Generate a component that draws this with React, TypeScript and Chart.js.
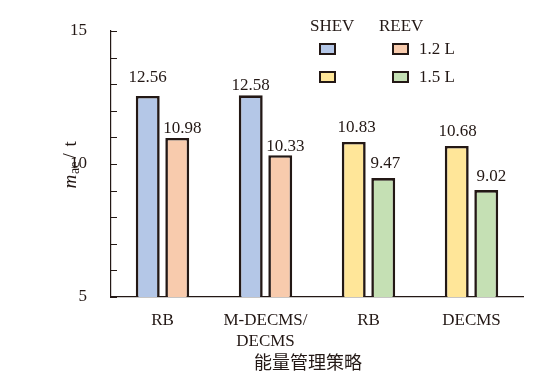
import React, { useEffect, useRef } from "react";
import { Chart, registerables } from "chart.js";

Chart.register(...registerables);

const categories: (string | string[])[] = ["RB", ["M-DECMS/", "DECMS"], "RB", "DECMS"];
const firstBarValues = [12.56, 12.58, 10.83, 10.68];
const secondBarValues = [10.98, 10.33, 9.47, 9.02];
const firstBarColors = ["#B4C7E7", "#B4C7E7", "#FFE699", "#FFE699"];
const secondBarColors = ["#F8CBAD", "#F8CBAD", "#C5E0B4", "#C5E0B4"];
const yTickValues = [5, 10, 15];
const xAxisTitle = "能量管理策略";

// label placement tweaks (style)
const firstLabelGap = [14, 5, 10, 10];
const firstLabelDx = [0, 0, 3, 1];
const secondLabelGap = [5, 4, 10, 9];
const secondLabelDx = [5, 5, 2, 5];

const SERIF = '"Liberation Serif", "DejaVu Serif", serif';
const INK = "#231815";

const overlayPlugin = {
  id: "overlay",
  afterDatasetsDraw(chart: any) {
    const ctx = chart.ctx;
    const y = chart.scales.y;
    const area = chart.chartArea;
    ctx.save();
    // inward ticks
    ctx.strokeStyle = INK;
    ctx.lineWidth = 1;
    for (let v = 5; v <= 15; v++) {
      const py = Math.round(y.getPixelForValue(v)) + 0.5;
      ctx.beginPath();
      ctx.moveTo(area.left, py);
      ctx.lineTo(area.left + 6, py);
      ctx.stroke();
    }
    // value labels
    ctx.fillStyle = INK;
    ctx.font = `17px ${SERIF}`;
    ctx.textAlign = "center";
    ctx.textBaseline = "alphabetic";
    const gaps = [firstLabelGap, secondLabelGap];
    const dxs = [firstLabelDx, secondLabelDx];
    chart.data.datasets.forEach((ds: any, di: number) => {
      const meta = chart.getDatasetMeta(di);
      meta.data.forEach((el: any, i: number) => {
        ctx.fillText(ds.data[i].toFixed(2), el.x + dxs[di][i], el.y - gaps[di][i]);
      });
    });
    // y title: m_ae / t (rotated, reading upwards)
    ctx.translate(75.5, 188.5);
    ctx.rotate(-Math.PI / 2);
    ctx.textAlign = "left";
    ctx.font = `italic 19px ${SERIF}`;
    ctx.fillText("m", 0, 0);
    ctx.font = `14px ${SERIF}`;
    ctx.fillText("ae", 14.5, 3);
    ctx.font = `19px ${SERIF}`;
    ctx.fillText("/", 30, 0);
    ctx.fillText("t", 42, 0);
    ctx.restore();
  },
};

const legendRows = [
  { left: firstBarColors[0], right: secondBarColors[0], text: "1.2 L" },
  { left: firstBarColors[2], right: secondBarColors[2], text: "1.5 L" },
];

export default function App() {
  const canvasRef = useRef<HTMLCanvasElement | null>(null);

  useEffect(() => {
    if (!canvasRef.current) return;
    const chart = new Chart(canvasRef.current, {
      type: "bar",
      data: {
        labels: categories as any,
        datasets: [
          {
            data: firstBarValues,
            backgroundColor: firstBarColors,
            borderColor: INK,
            borderWidth: 2.6,
            borderSkipped: false,
            categoryPercentage: 0.573,
            barPercentage: 0.81,
          },
          {
            data: secondBarValues,
            backgroundColor: secondBarColors,
            borderColor: INK,
            borderWidth: 2.6,
            borderSkipped: false,
            categoryPercentage: 0.573,
            barPercentage: 0.81,
          },
        ],
      },
      options: {
        animation: false,
        responsive: true,
        maintainAspectRatio: false,
        layout: { padding: { top: 31, right: 19, left: 0, bottom: 0 } },
        plugins: {
          legend: { display: false },
          tooltip: { enabled: false },
        },
        scales: {
          x: {
            grid: { display: false },
            border: { display: true, color: INK, width: 1.2 },
            ticks: {
              color: INK,
              font: { family: SERIF, size: 17, lineHeight: 1.25 },
              padding: 5,
              maxRotation: 0,
              autoSkip: false,
            },
            afterFit: (axis: any) => {
              axis.height = 79;
            },
          },
          y: {
            min: 5,
            max: 15,
            afterBuildTicks: (axis: any) => {
              axis.ticks = yTickValues.map((v) => ({ value: v }));
            },
            grid: { display: false },
            border: { display: true, color: INK, width: 1.2 },
            ticks: {
              color: INK,
              font: { family: SERIF, size: 17 },
              padding: 16,
            },
            afterFit: (axis: any) => {
              axis.width = 111;
            },
          },
        },
      },
      plugins: [overlayPlugin],
    });
    return () => chart.destroy();
  }, []);

  const textStyle: React.CSSProperties = {
    position: "absolute",
    fontFamily: SERIF,
    fontSize: 17,
    color: INK,
    lineHeight: "20px",
    whiteSpace: "nowrap",
  };
  const box = (bg: string, left: number, top: number) => (
    <div
      style={{
        position: "absolute",
        left,
        top,
        width: 13,
        height: 8,
        background: bg,
        border: `2.5px solid ${INK}`,
      }}
    />
  );

  return (
    <div
      style={{
        position: "fixed",
        left: 0,
        top: 0,
        width: 542,
        height: 376,
        background: "#fff",
      }}
    >
      <canvas ref={canvasRef} />
      <div style={{ ...textStyle, left: 310, top: 16 }}>SHEV</div>
      <div style={{ ...textStyle, left: 379, top: 16 }}>REEV</div>
      {legendRows.map((r, i) => (
        <React.Fragment key={i}>
          {box(r.left, 319, 43 + i * 28)}
          {box(r.right, 392, 43 + i * 28)}
          <div style={{ ...textStyle, left: 419, top: 39 + i * 28 }}>{r.text}</div>
        </React.Fragment>
      ))}
      <div
        style={{
          ...textStyle,
          fontFamily: '"Noto Sans CJK SC", sans-serif',
          fontSize: 18,
          left: 0,
          width: 616,
          textAlign: "center",
          top: 351,
        }}
      >
        {xAxisTitle}
      </div>
    </div>
  );
}
